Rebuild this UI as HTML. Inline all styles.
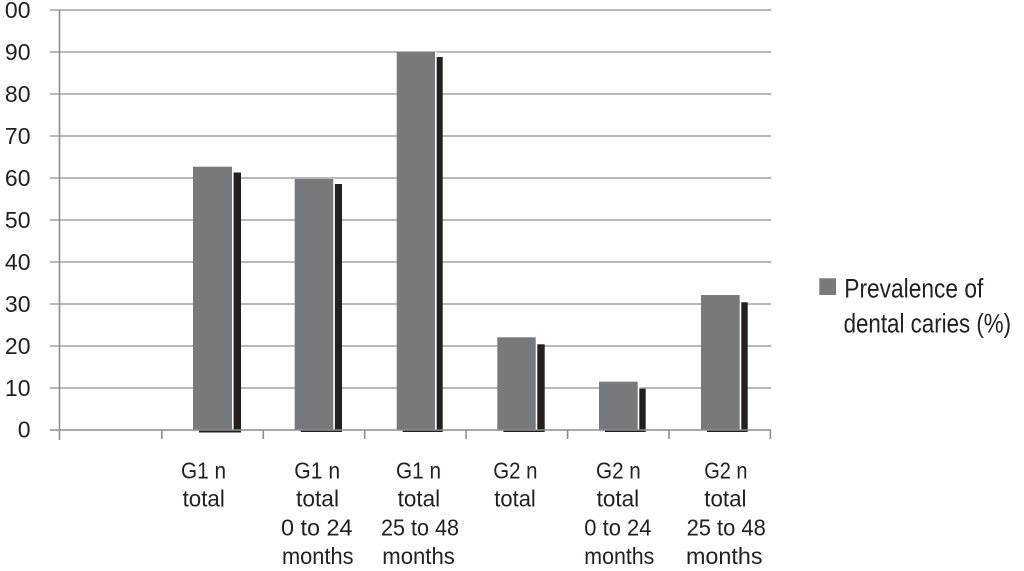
<!DOCTYPE html>
<html>
<head>
<meta charset="utf-8">
<style>
  html, body { margin: 0; padding: 0; background: #ffffff; }
  body { width: 1024px; height: 571px; overflow: hidden; }
  svg { display: block; }
  text { font-family: "Liberation Sans", sans-serif; fill: #231f20; }
</style>
</head>
<body>
<svg width="1024" height="571" viewBox="0 0 1024 571" xmlns="http://www.w3.org/2000/svg">
  <rect x="0" y="0" width="1024" height="571" fill="#ffffff"/>

  <!-- gridlines -->
  <g stroke="#a2a2a2" stroke-width="1.6">
    <line x1="50" y1="10" x2="771" y2="10"/>
    <line x1="50" y1="52" x2="771" y2="52"/>
    <line x1="50" y1="94" x2="771" y2="94"/>
    <line x1="50" y1="136" x2="771" y2="136"/>
    <line x1="50" y1="178" x2="771" y2="178"/>
    <line x1="50" y1="220" x2="771" y2="220"/>
    <line x1="50" y1="262" x2="771" y2="262"/>
    <line x1="50" y1="304" x2="771" y2="304"/>
    <line x1="50" y1="346" x2="771" y2="346"/>
    <line x1="50" y1="388" x2="771" y2="388"/>
  </g>

  <!-- y axis -->
  <line x1="59.5" y1="10" x2="59.5" y2="440" stroke="#8e8e8e" stroke-width="1.6"/>

  <!-- bars: shadow, white edge, gray -->
  <g>
    <rect x="199" y="172.5" width="42" height="260" fill="#231f20"/>
    <rect x="193" y="166.7" width="40.6" height="263.3" fill="#ffffff"/>
    <rect x="193" y="166.7" width="39" height="263.3" fill="#78797d"/>

    <rect x="300.7" y="184" width="41.3" height="248" fill="#231f20"/>
    <rect x="294.7" y="179" width="40.2" height="251" fill="#ffffff"/>
    <rect x="294.7" y="179" width="38.6" height="251" fill="#78797d"/>

    <rect x="402.7" y="57" width="40" height="375" fill="#231f20"/>
    <rect x="396.7" y="51.7" width="40" height="378.3" fill="#ffffff"/>
    <rect x="396.7" y="51.7" width="38.3" height="378.3" fill="#78797d"/>

    <rect x="503.3" y="344.3" width="41.4" height="87.7" fill="#231f20"/>
    <rect x="497.3" y="337.3" width="40" height="92.7" fill="#ffffff"/>
    <rect x="497.3" y="337.3" width="38.4" height="92.7" fill="#78797d"/>

    <rect x="605" y="388.7" width="40.7" height="43.3" fill="#231f20"/>
    <rect x="599" y="381.7" width="40.3" height="48.3" fill="#ffffff"/>
    <rect x="599" y="381.7" width="38.7" height="48.3" fill="#78797d"/>

    <rect x="707" y="302.3" width="40.7" height="129.7" fill="#231f20"/>
    <rect x="701" y="295" width="40.3" height="135" fill="#ffffff"/>
    <rect x="701" y="295" width="38.7" height="135" fill="#78797d"/>
  </g>

  <!-- x axis + ticks -->
  <g stroke="#8e8e8e" stroke-width="1.6">
    <line x1="50" y1="430" x2="771" y2="430"/>
    <line x1="161.9" y1="430" x2="161.9" y2="439"/>
    <line x1="263.3" y1="430" x2="263.3" y2="439"/>
    <line x1="364.7" y1="430" x2="364.7" y2="439"/>
    <line x1="466.1" y1="430" x2="466.1" y2="439"/>
    <line x1="567.6" y1="430" x2="567.6" y2="439"/>
    <line x1="669" y1="430" x2="669" y2="439"/>
    <line x1="770.4" y1="430" x2="770.4" y2="439"/>
  </g>

  <!-- y tick labels -->
  <g font-size="23" text-anchor="end">
    <text x="30.5" y="18">100</text>
    <text x="30.5" y="60">90</text>
    <text x="30.5" y="102">80</text>
    <text x="30.5" y="144">70</text>
    <text x="30.5" y="186">60</text>
    <text x="30.5" y="228">50</text>
    <text x="30.5" y="270">40</text>
    <text x="30.5" y="312">30</text>
    <text x="30.5" y="354">20</text>
    <text x="30.5" y="396">10</text>
    <text x="30.5" y="437.5">0</text>
  </g>
  <!-- clip the leading "1" of 100 as in the reference -->
  <rect x="0" y="0" width="3.5" height="22" fill="#ffffff"/>

  <!-- x category labels -->
  <g font-size="22.7">
    <text x="181" y="478.3" textLength="45" lengthAdjust="spacingAndGlyphs">G1 n</text>
    <text x="182.6" y="506.5" textLength="42.2" lengthAdjust="spacingAndGlyphs">total</text>

    <text x="294.3" y="478.3" textLength="45.8" lengthAdjust="spacingAndGlyphs">G1 n</text>
    <text x="296" y="506.5" textLength="43" lengthAdjust="spacingAndGlyphs">total</text>
    <text x="281" y="535.5" textLength="71.5" lengthAdjust="spacingAndGlyphs">0 to 24</text>
    <text x="282" y="563.8" textLength="71.5" lengthAdjust="spacingAndGlyphs">months</text>

    <text x="396" y="478.3" textLength="45" lengthAdjust="spacingAndGlyphs">G1 n</text>
    <text x="397.6" y="506.5" textLength="42.5" lengthAdjust="spacingAndGlyphs">total</text>
    <text x="381" y="535.5" textLength="78" lengthAdjust="spacingAndGlyphs">25 to 48</text>
    <text x="382.3" y="563.8" textLength="72.5" lengthAdjust="spacingAndGlyphs">months</text>

    <text x="493.3" y="478.3" textLength="44.2" lengthAdjust="spacingAndGlyphs">G2 n</text>
    <text x="494.3" y="506.5" textLength="41.5" lengthAdjust="spacingAndGlyphs">total</text>

    <text x="596" y="478.3" textLength="44.8" lengthAdjust="spacingAndGlyphs">G2 n</text>
    <text x="596.6" y="506.5" textLength="42.5" lengthAdjust="spacingAndGlyphs">total</text>
    <text x="584.3" y="535.5" textLength="67.2" lengthAdjust="spacingAndGlyphs">0 to 24</text>
    <text x="584.3" y="563.8" textLength="70" lengthAdjust="spacingAndGlyphs">months</text>

    <text x="704.3" y="478.3" textLength="43.2" lengthAdjust="spacingAndGlyphs">G2 n</text>
    <text x="704.3" y="506.5" textLength="42.2" lengthAdjust="spacingAndGlyphs">total</text>
    <text x="686.6" y="535.5" textLength="79.2" lengthAdjust="spacingAndGlyphs">25 to 48</text>
    <text x="686" y="563.8" textLength="76.5" lengthAdjust="spacingAndGlyphs">months</text>
  </g>

  <!-- legend -->
  <rect x="819.3" y="278.3" width="16.7" height="16.7" fill="#78797d"/>
  <g font-size="27">
    <text x="844.3" y="297.3" textLength="139" lengthAdjust="spacingAndGlyphs">Prevalence of</text>
    <text x="843.6" y="332.3" textLength="167.5" lengthAdjust="spacingAndGlyphs">dental caries (%)</text>
  </g>
</svg>
</body>
</html>
